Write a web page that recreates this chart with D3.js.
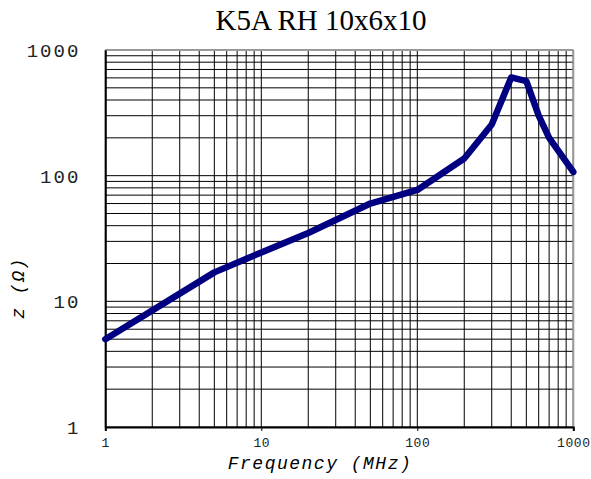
<!DOCTYPE html>
<html><head><meta charset="utf-8">
<script src="https://cdn.jsdelivr.net/npm/d3@7"></script>
<style>body{margin:0;background:#fff}svg{display:block}</style>
</head><body>
<svg id="c" width="591" height="479"></svg>
<script>
const title = "K5A RH 10x6x10";
const freq = [1, 5, 10, 20, 50, 100, 200, 300, 400, 500, 600, 700, 1000];
const imped = [5, 17, 24.5, 35, 60, 77, 137, 255, 605, 565, 300, 200, 107];
const xTicks = [1, 10, 100, 1000];
const yTicks = [1, 10, 100, 1000];
const xLabel = "Frequency (MHz)";
const yLabel = "z (Ω)";

const svg = d3.select("#c");
const L = 105.3, R = 573.3, T = 50, B = 427;
const x = d3.scaleLog().domain([1, 1000]).range([L, R]);
const y = d3.scaleLog().domain([1, 1000]).range([B, T]);

const minors = [];
for (let d = 1; d < 1000; d *= 10) for (let k = 1; k <= 10; k++) minors.push(d * k);
const grid = Array.from(new Set(minors));

const g = svg.append("g");
g.selectAll("line.vx").data(grid).join("line")
  .attr("x1", d => x(d)).attr("x2", d => x(d)).attr("y1", T).attr("y2", B)
  .attr("stroke", "#000").attr("stroke-width", 1);
g.selectAll("line.hy").data(grid).join("line")
  .attr("y1", d => y(d)).attr("y2", d => y(d)).attr("x1", L).attr("x2", R)
  .attr("stroke", "#000").attr("stroke-width", 1);

// frame
g.append("line").attr("x1", L).attr("x2", R).attr("y1", T).attr("y2", T).attr("stroke", "#999").attr("stroke-width", 2);
g.append("line").attr("x1", R).attr("x2", R).attr("y1", T).attr("y2", B).attr("stroke", "#999").attr("stroke-width", 2);

const monoFont = "Liberation Mono, Courier New, monospace";
// axes
const xAxis = d3.axisBottom(x).tickValues(xTicks).tickFormat(d3.format("d")).tickSize(4).tickPadding(7);
const yAxis = d3.axisLeft(y).tickValues(yTicks).tickFormat(d3.format("d")).tickSize(0).tickPadding(25);
const gx = svg.append("g").attr("transform", `translate(0,${B})`).call(xAxis);
gx.select(".domain").attr("stroke", "#000").attr("stroke-width", 2);
gx.selectAll("text").attr("font-family", monoFont).attr("font-size", 13).attr("letter-spacing", "0.6px").attr("fill", "#222");
const gy = svg.append("g").attr("transform", `translate(${L},0)`).call(yAxis);
gy.select(".domain").attr("stroke", "#000").attr("stroke-width", 2);
gy.selectAll("text").attr("font-family", monoFont).attr("font-size", 19).attr("letter-spacing", "2px").attr("fill", "#222").attr("dy", "0.35em");

// data line
const line = d3.line().x((d, i) => x(freq[i])).y(d => y(d)).curve(d3.curveLinear);
svg.append("path").datum(imped).attr("d", line)
  .attr("fill", "none").attr("stroke", "#000080").attr("stroke-width", 6.5)
  .attr("stroke-linejoin", "round").attr("stroke-linecap", "round");

// texts
svg.append("text").attr("x", 321).attr("y", 30).attr("text-anchor", "middle")
  .attr("font-family", "Liberation Serif, Times New Roman, serif").attr("font-size", 29).text(title);
svg.append("text").attr("x", 320).attr("y", 469).attr("text-anchor", "middle")
  .attr("font-family", monoFont).attr("font-style", "italic").attr("font-size", 18).attr("letter-spacing", "1.5px").text(xLabel);
svg.append("text").attr("transform", "translate(24,288) rotate(-90)").attr("text-anchor", "middle")
  .attr("font-family", monoFont).attr("font-style", "italic").attr("font-size", 18).attr("letter-spacing", "1.5px").text(yLabel);
</script>
</body></html>
